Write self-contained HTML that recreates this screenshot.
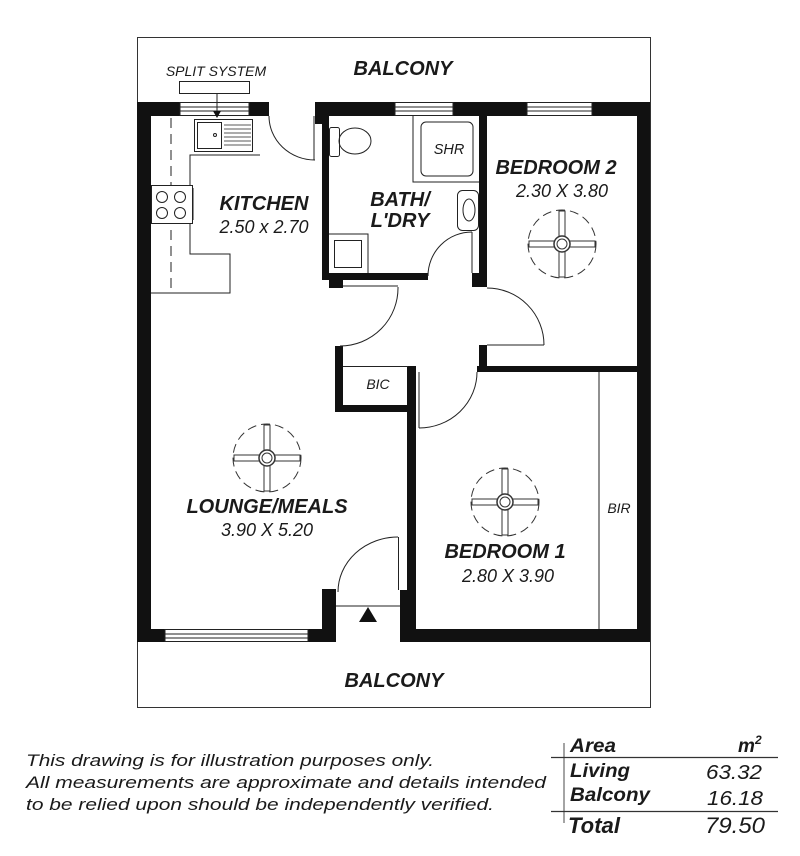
<!DOCTYPE html>
<html><head><meta charset="utf-8"><style>
html,body{margin:0;padding:0;background:#fff;}
svg{display:block;}
text{font-family:"Liberation Sans",Arial,sans-serif;fill:#1a1a1a;font-style:italic;}
.b{font-weight:bold;}
</style></head><body>
<svg width="800" height="856" viewBox="0 0 800 856" xmlns="http://www.w3.org/2000/svg">
<rect width="800" height="856" fill="#fff"/>
<rect x="137.5" y="37.5" width="513" height="670" fill="none" stroke="#333" stroke-width="1"/>
<g fill="#111">
<rect x="137" y="102" width="43" height="14"/>
<rect x="249" y="102" width="20" height="14"/>
<rect x="315" y="102" width="80" height="14"/>
<rect x="453" y="102" width="74" height="14"/>
<rect x="592" y="102" width="58" height="14"/>
<rect x="137" y="102" width="14" height="540"/>
<rect x="637" y="102" width="13" height="540"/>
<rect x="137" y="629" width="28" height="13"/>
<rect x="308" y="629" width="28" height="13"/>
<rect x="400" y="629" width="250" height="13"/>
<rect x="322" y="589" width="14" height="53"/>
<rect x="400" y="590" width="16" height="52"/>
<rect x="315" y="102" width="7" height="22"/>
<rect x="322" y="116" width="7" height="164"/>
<rect x="322" y="273" width="106" height="7"/>
<rect x="329" y="280" width="14" height="8"/>
<rect x="479" y="116" width="8" height="171"/>
<rect x="472" y="273" width="7" height="14"/>
<rect x="479" y="345" width="8" height="27"/>
<rect x="477" y="366" width="173" height="6"/>
<rect x="335" y="346" width="8" height="66"/>
<rect x="335" y="405" width="73" height="7"/>
<rect x="407" y="366" width="9" height="263"/>
</g>
<g fill="none" stroke="#222" stroke-width="1">
<rect x="180" y="102.5" width="69" height="13"/><line x1="180" y1="107" x2="249" y2="107"/><line x1="180" y1="111" x2="249" y2="111"/>
<rect x="395" y="102.5" width="58" height="13"/><line x1="395" y1="107" x2="453" y2="107"/><line x1="395" y1="111" x2="453" y2="111"/>
<rect x="527" y="102.5" width="65" height="13"/><line x1="527" y1="107" x2="592" y2="107"/><line x1="527" y1="111" x2="592" y2="111"/>
<rect x="165" y="629.5" width="143" height="12"/><line x1="165" y1="634" x2="308" y2="634"/><line x1="165" y1="638" x2="308" y2="638"/>
<path d="M269 116 A46 44 0 0 0 315 160"/><line x1="314" y1="116" x2="314" y2="160"/>
<path d="M428 276 A44 44 0 0 1 472 232"/><line x1="472" y1="232" x2="472" y2="273"/>
<path d="M398 287 A58 58 0 0 1 340 346"/><line x1="343" y1="286" x2="398" y2="286"/>
<path d="M487 288 A57 57 0 0 1 544 345"/><line x1="487" y1="345" x2="544" y2="345"/>
<path d="M477 372 A58 56 0 0 1 419 428"/><line x1="419" y1="372" x2="419" y2="428"/>
<path d="M338 592 A60 55 0 0 1 398 537"/><line x1="398.5" y1="537" x2="398.5" y2="590"/>
<line x1="336" y1="606" x2="400" y2="606"/>
<line x1="343" y1="366.5" x2="408" y2="366.5"/>
<line x1="599" y1="372" x2="599" y2="629"/>
<rect x="179.5" y="81.5" width="70" height="12"/>
<line x1="217" y1="93" x2="217" y2="112"/>
<rect x="194.5" y="119.5" width="58" height="32"/>
<rect x="197.5" y="122.5" width="24" height="26"/>
<circle cx="215" cy="135" r="1.5"/>
<g stroke-width="0.8"><line x1="224" y1="125" x2="251" y2="125"/><line x1="224" y1="129" x2="251" y2="129"/><line x1="224" y1="133" x2="251" y2="133"/><line x1="224" y1="137" x2="251" y2="137"/><line x1="224" y1="141" x2="251" y2="141"/><line x1="224" y1="145" x2="251" y2="145"/></g>
<polyline points="260,155 190,155 190,254 230,254 230,293 151,293"/>
<line x1="171" y1="118" x2="171" y2="290" stroke-dasharray="10,6"/>
<rect x="151.5" y="185.5" width="41" height="38" fill="#fff"/>
<line x1="193" y1="188" x2="193" y2="220"/>
<circle cx="162" cy="197" r="5.5"/><circle cx="180" cy="197" r="5.5"/><circle cx="162" cy="213" r="5.5"/><circle cx="180" cy="213" r="5.5"/>
<rect x="329.5" y="127.5" width="10" height="29" rx="2"/>
<ellipse cx="355" cy="141" rx="16" ry="13"/>
<polyline points="413,116 413,182 479,182"/>
<rect x="421" y="122" width="52" height="54" rx="5"/>
<rect x="457.5" y="190.5" width="21" height="40" rx="5"/>
<ellipse cx="469" cy="210" rx="6" ry="11"/>
<polyline points="329,234 368,234 368,273"/>
<rect x="334.5" y="240.5" width="27" height="27"/>
</g>
<polygon points="213,111 221,111 217,118" fill="#111"/>
<polygon points="368,607 359,622 377,622" fill="#111"/>
<defs>
<g id="f">
<circle r="34" fill="none" stroke="#333" stroke-width="1" stroke-dasharray="9,5"/>
<rect x="-33" y="-3" width="66" height="6" fill="#fff" stroke="#333"/>
<rect x="-3" y="-33" width="6" height="66" fill="#fff" stroke="#333"/>
<circle r="8" fill="#fff" stroke="#333" stroke-width="1.5"/>
<circle r="5" fill="#fff" stroke="#333"/>
</g>
</defs>
<use href="#f" x="562" y="244"/>
<use href="#f" x="267" y="458"/>
<use href="#f" x="505" y="502"/>
<text x="403" y="75" text-anchor="middle" class="b" font-size="20">BALCONY</text>
<text x="216" y="76" text-anchor="middle" font-size="14">SPLIT SYSTEM</text>
<text x="264" y="210" text-anchor="middle" class="b" font-size="20">KITCHEN</text>
<text x="264" y="233" text-anchor="middle" font-size="18">2.50 x 2.70</text>
<text x="400" y="206" text-anchor="middle" class="b" font-size="20">BATH/</text>
<text x="400" y="227" text-anchor="middle" class="b" font-size="20">L'DRY</text>
<text x="449" y="154" text-anchor="middle" font-size="14.5">SHR</text>
<text x="556" y="174" text-anchor="middle" class="b" font-size="20">BEDROOM 2</text>
<text x="562" y="197" text-anchor="middle" font-size="18">2.30 X 3.80</text>
<text x="378" y="389" text-anchor="middle" font-size="14">BIC</text>
<text x="267" y="513" text-anchor="middle" class="b" font-size="20">LOUNGE/MEALS</text>
<text x="267" y="536" text-anchor="middle" font-size="18">3.90 X 5.20</text>
<text x="505" y="558" text-anchor="middle" class="b" font-size="20">BEDROOM 1</text>
<text x="508" y="582" text-anchor="middle" font-size="18">2.80 X 3.90</text>
<text x="619" y="513" text-anchor="middle" font-size="14">BIR</text>
<text x="394" y="687" text-anchor="middle" class="b" font-size="20">BALCONY</text>
<text x="26" y="766" font-size="17" textLength="408" lengthAdjust="spacingAndGlyphs">This drawing is for illustration purposes only.</text>
<text x="26" y="788" font-size="17" textLength="520" lengthAdjust="spacingAndGlyphs">All measurements are approximate and details intended</text>
<text x="26" y="810" font-size="17" textLength="468" lengthAdjust="spacingAndGlyphs">to be relied upon should be independently verified.</text>
<line x1="564" y1="743" x2="564" y2="823" stroke="#666" stroke-width="1.2"/>
<line x1="551" y1="757.5" x2="778" y2="757.5" stroke="#333" stroke-width="1.2"/>
<line x1="551" y1="811.5" x2="778" y2="811.5" stroke="#333" stroke-width="1.2"/>
<text x="570" y="752" class="b" font-size="19" textLength="46" lengthAdjust="spacingAndGlyphs">Area</text>
<text x="738" y="752" class="b" font-size="19">m</text>
<text x="755" y="744" class="b" font-size="12">2</text>
<text x="570" y="777" class="b" font-size="19" textLength="60" lengthAdjust="spacingAndGlyphs">Living</text>
<text x="706" y="779" font-size="20" textLength="56" lengthAdjust="spacingAndGlyphs">63.32</text>
<text x="570" y="801" class="b" font-size="19" textLength="80" lengthAdjust="spacingAndGlyphs">Balcony</text>
<text x="707" y="805" font-size="20" textLength="56" lengthAdjust="spacingAndGlyphs">16.18</text>
<text x="568" y="833" class="b" font-size="22" textLength="52" lengthAdjust="spacingAndGlyphs">Total</text>
<text x="705" y="833" font-size="22" textLength="60" lengthAdjust="spacingAndGlyphs">79.50</text>
</svg>
</body></html>
